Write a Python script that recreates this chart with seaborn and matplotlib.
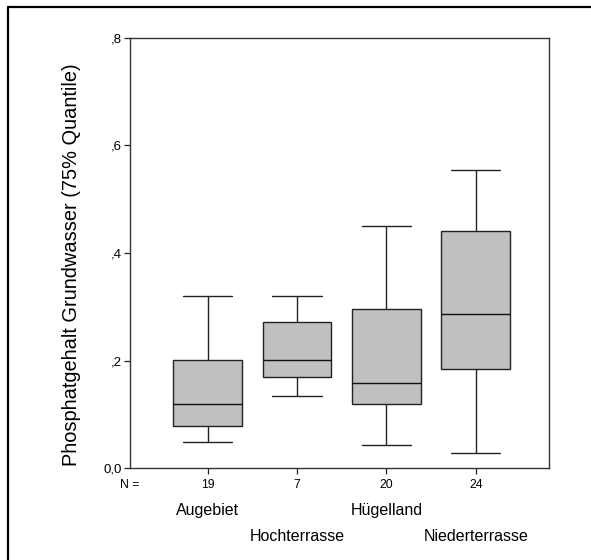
import matplotlib
matplotlib.use("Agg")
import matplotlib.pyplot as plt
import seaborn as sns
import pandas as pd
from matplotlib.lines import Line2D

# Five-number summaries (min, Q1, median, Q3, max)
categories = ["Augebiet", "Hochterrasse", "Hügelland", "Niederterrasse"]
augebiet = [0.048, 0.079, 0.119, 0.202, 0.320]
hochterrasse = [0.134, 0.170, 0.201, 0.271, 0.320]
huegelland = [0.044, 0.120, 0.159, 0.296, 0.450]
niederterrasse = [0.029, 0.185, 0.286, 0.440, 0.555]
counts = [19, 7, 20, 24]
y_ticks = [0.0, 0.2, 0.4, 0.6, 0.8]
y_tick_labels = ["0,0", ",2", ",4", ",6", ",8"]
y_label = "Phosphatgehalt Grundwasser (75% Quantile)"

series = [augebiet, hochterrasse, huegelland, niederterrasse]
df = pd.DataFrame({
    "Gebiet": [c for c, s in zip(categories, series) for _ in s],
    "Wert": [v for s in series for v in s],
})

sns.set_theme(style="white")
plt.rcParams["font.family"] = ["Liberation Sans", "DejaVu Sans"]
plt.rcParams["text.color"] = "black"
plt.rcParams["axes.labelcolor"] = "black"
plt.rcParams["xtick.color"] = "black"
plt.rcParams["ytick.color"] = "black"

fig = plt.figure(figsize=(5.91, 5.60), dpi=100)
ax = fig.add_axes([130 / 591, 1 - 468.3 / 560, 419 / 591, 430.6 / 560])

sns.boxplot(data=df, x="Gebiet", y="Wert", order=categories, ax=ax,
            color="#c0c0c0", saturation=1, width=0.77, whis=(0, 100),
            linecolor="#222222", linewidth=1.0, capwidths=0.55,
            medianprops={"color": "#111111", "linewidth": 1.0})

ax.set_xlim(-0.87, 3.82)
ax.set_ylim(0, 0.8)
ax.set_yticks(y_ticks)
ax.set_yticklabels(y_tick_labels, fontsize=9.5)
ax.set_xticks(range(len(categories)))
ax.set_xticklabels([str(n) for n in counts], fontsize=8.8)
ax.tick_params(axis="both", direction="out", length=4, width=0.9,
               color="#222222", left=True, bottom=True)
ax.tick_params(axis="y", pad=2)
ax.tick_params(axis="x", pad=4)
ax.set_xlabel("")
ax.set_ylabel(y_label, fontsize=14.4)
ax.yaxis.set_label_coords(-0.118, 0.474)
for sp in ax.spines.values():
    sp.set_visible(True)
    sp.set_color("#333333")
    sp.set_linewidth(1.0)

ax.text(0, -0.0457, "N =", transform=ax.transAxes, ha="center", va="baseline",
        fontsize=8.8)
xt = ax.get_xaxis_transform()
for i, c in enumerate(categories):
    yy = -0.1085 if i % 2 == 0 else -0.169
    ax.text(i, yy, c, transform=xt, ha="center", va="baseline", fontsize=11.5)

# outer frame (top and left edges visible)
fig.add_artist(Line2D([7.5 / 591, 1.0], [1 - 6.5 / 560] * 2, color="black",
                      linewidth=1.6, transform=fig.transFigure))
fig.add_artist(Line2D([7.5 / 591] * 2, [0.0, 1 - 6.5 / 560], color="black",
                      linewidth=1.6, transform=fig.transFigure))

fig.savefig("out.png", dpi=100)
